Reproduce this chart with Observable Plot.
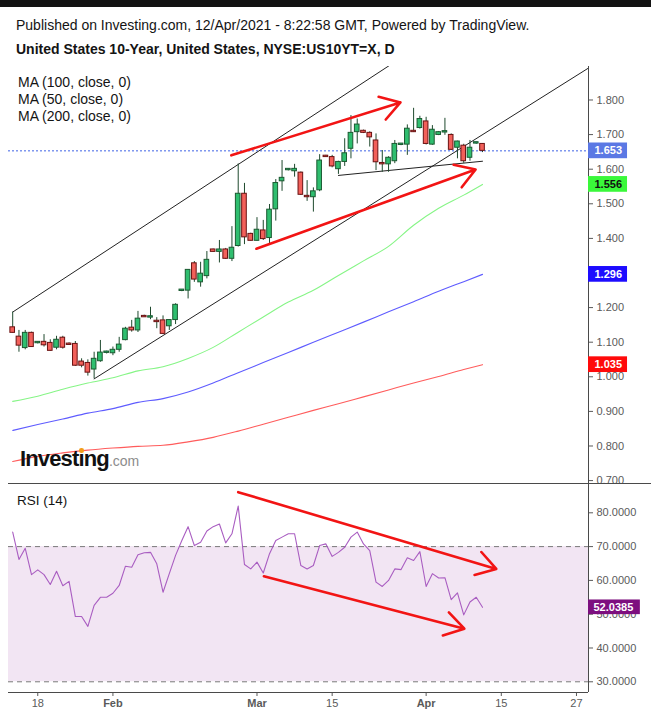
<!DOCTYPE html>
<html><head><meta charset="utf-8">
<script src="https://cdn.jsdelivr.net/npm/d3@7"></script>
<script src="https://cdn.jsdelivr.net/npm/@observablehq/plot@0.6"></script>
<style>
body{margin:0;background:#fff;}
#wrap{position:relative;width:651px;height:715px;overflow:hidden;font-family:"Liberation Sans",Arial,sans-serif;background:#fff;}
.topbar{position:absolute;left:0;top:0;width:651px;height:7px;background:#131313;}
.t{position:absolute;white-space:nowrap;color:#141414;font-size:14px;line-height:16px;}
#main,#rsi{position:absolute;left:0;}
#main{top:66px;} #rsi{top:483px;}
svg{overflow:visible;}
.logo{position:absolute;left:20px;top:448px;white-space:nowrap;line-height:22px;}
.logo b{font-size:22px;letter-spacing:-0.85px;color:#111;font-weight:bold;}
.logo .dot{position:relative;}
.logo .dot::after{content:"";position:absolute;left:1px;top:2px;width:4.5px;height:4.5px;border-radius:50%;background:#f39c1b;}
.logo span.com{font-size:14px;color:#8c8c8c;}
</style></head>
<body>
<div id="wrap">
  <div class="topbar"></div>
  <div class="t" style="left:16px;top:17px;">Published on Investing.com, 12/Apr/2021 - 8:22:58 GMT, Powered by TradingView.</div>
  <div class="t" style="left:16px;top:41px;font-weight:bold;">United States 10-Year, United States, NYSE:US10YT=X, D</div>
  <div id="main"></div>
  <div id="rsi"></div>
  <div class="t" style="left:18px;top:74px;">MA (100, close, 0)</div>
  <div class="t" style="left:18px;top:91px;">MA (50, close, 0)</div>
  <div class="t" style="left:18px;top:108px;">MA (200, close, 0)</div>
  <div class="logo"><b>Invest<span class="dot">ı</span>ng</b><span class="com">.com</span></div>
  <div class="t" style="left:17px;top:493px;font-size:13.5px;">RSI (14)</div>
</div>
<script>
// ---------- DATA (bar index 0 = 13 Jan 2021, daily bars incl. Sunday sessions) ----------
const opens  = [1.143,1.116,1.083,1.127,1.097,1.101,1.098,1.084,1.113,1.096,1.095,1.044,1.040,1.021,1.045,1.069,1.068,1.078,1.106,1.142,1.134,1.176,1.171,1.162,1.163,1.146,1.164,1.248,1.249,1.328,1.273,1.291,1.368,1.361,1.368,1.341,1.378,1.529,1.413,1.393,1.423,1.401,1.484,1.565,1.597,1.594,1.590,1.523,1.519,1.539,1.639,1.635,1.600,1.621,1.659,1.707,1.711,1.705,1.683,1.618,1.614,1.623,1.670,1.671,1.711,1.719,1.738,1.671,1.699,1.706,1.699,1.662,1.668,1.633,1.674,1.673];
const highs  = [1.187,1.134,1.134,1.129,1.101,1.122,1.107,1.117,1.117,1.098,1.102,1.052,1.049,1.071,1.105,1.074,1.086,1.114,1.143,1.163,1.189,1.178,1.201,1.171,1.176,1.165,1.211,1.252,1.310,1.333,1.331,1.362,1.369,1.394,1.371,1.434,1.615,1.559,1.415,1.460,1.452,1.498,1.570,1.625,1.601,1.614,1.592,1.567,1.546,1.642,1.640,1.640,1.623,1.688,1.755,1.745,1.713,1.708,1.702,1.654,1.636,1.683,1.674,1.728,1.776,1.753,1.750,1.726,1.709,1.747,1.702,1.681,1.672,1.683,1.678,1.674];
const lows   = [1.126,1.071,1.078,1.085,1.095,1.086,1.074,1.078,1.080,1.092,1.030,1.026,1.002,0.994,1.042,1.066,1.061,1.071,1.104,1.129,1.128,1.172,1.165,1.139,1.122,1.134,1.151,1.246,1.225,1.273,1.259,1.283,1.360,1.329,1.339,1.333,1.375,1.382,1.392,1.392,1.394,1.385,1.450,1.536,1.595,1.577,1.524,1.507,1.476,1.535,1.635,1.604,1.585,1.608,1.630,1.673,1.703,1.664,1.596,1.591,1.591,1.616,1.668,1.640,1.706,1.716,1.670,1.669,1.697,1.698,1.654,1.630,1.617,1.623,1.672,1.648];
const closes = [1.127,1.090,1.127,1.086,1.101,1.091,1.075,1.107,1.084,1.092,1.032,1.032,1.012,1.052,1.070,1.073,1.078,1.093,1.139,1.134,1.168,1.172,1.175,1.158,1.124,1.164,1.208,1.252,1.309,1.281,1.298,1.338,1.361,1.368,1.341,1.373,1.529,1.403,1.393,1.425,1.398,1.483,1.560,1.575,1.601,1.601,1.526,1.519,1.536,1.625,1.635,1.608,1.621,1.646,1.705,1.729,1.705,1.692,1.620,1.614,1.633,1.673,1.674,1.717,1.707,1.745,1.673,1.714,1.707,1.710,1.656,1.680,1.623,1.662,1.678,1.653];

const rsi14 = [74.3,66.2,69.5,61.7,63.1,61.7,58.8,62.7,58.4,59.7,49.3,49.3,46.4,52.6,55.0,55.0,56.2,58.5,64.2,63.9,67.6,68.2,68.3,64.9,56.5,62.0,67.4,71.8,75.9,70.3,71.3,74.6,75.9,76.7,71.1,73.8,82.0,64.7,63.4,65.4,62.2,67.9,71.8,72.8,73.8,73.8,64.4,63.4,64.4,70.3,70.8,67.1,68.3,69.8,72.8,74.3,70.8,68.8,59.5,58.2,60.0,63.4,63.2,66.7,65.9,68.5,58.2,62.0,60.7,60.8,54.3,56.3,49.8,53.6,55.0,52.0385];

// moving averages read at these bar indices
const maIdx  = [0,4,8,12,16,20,24,28,32,36,40,44,48,52,56,60,64,68,72,75];
const ma50   = [0.929,0.944,0.964,0.982,0.997,1.017,1.029,1.053,1.085,1.129,1.173,1.216,1.250,1.293,1.335,1.377,1.438,1.487,1.525,1.556];
const ma100  = [0.845,0.862,0.878,0.895,0.908,0.926,0.937,0.956,0.982,1.012,1.041,1.070,1.100,1.129,1.158,1.188,1.217,1.247,1.275,1.296];
const ma200  = [0.755,0.770,0.780,0.788,0.794,0.799,0.802,0.812,0.825,0.843,0.863,0.883,0.903,0.922,0.942,0.962,0.982,1.001,1.021,1.035];

// tick labels (1.300 sits under the 1.296 value tag in the original, so it is not shown)
const xTickIdx    = [4,16,39,51,66,78,90];
const xTickLabels = ["18","Feb","Mar","15","Apr","15","27"];
const monthLabels = ["Feb","Mar","Apr"];
const yTicksMain  = [0.7,0.8,0.9,1.0,1.1,1.2,1.4,1.5,1.6,1.7,1.8];
const yTicksRsi   = [30,40,50,60,70,80];
const rsiBands    = [30,70];

// drawings (bar index, value)
const channelUpper = [{i:0, v:1.187},{i:61, v:1.910}];
const channelLower = [{i:13, v:0.994},{i:91.8, v:1.891}];
const supportLine  = [{i:52, v:1.582},{i:75, v:1.623}];
const arrowsMain = [{i1:34.9, v1:1.640, i2:61.9, v2:1.793},{i1:38.9, v1:1.370, i2:73.9, v2:1.599}];
const arrowsRsi  = [{i1:36.0, v1:86.1, i2:77.2, v2:63.4},{i1:40.1, v1:61.2, i2:72.1, v2:45.7}];

// right-axis value labels
const priceLabels = [
  {v:closes[closes.length-1], bg:"#5b78e4", fg:"#ffffff"},
  {v:ma50[ma50.length-1],     bg:"#3af83a", fg:"#111111"},
  {v:ma100[ma100.length-1],   bg:"#1d0cff", fg:"#ffffff"},
  {v:ma200[ma200.length-1],   bg:"#ff0a0a", fg:"#ffffff"}
];
const rsiLabel = [{v:rsi14[rsi14.length-1], bg:"#7d0f7f", fg:"#ffffff"}];

// ---------- SCALES ----------
const X_DOMAIN = [-0.67, 91.92];
const X_EXT = 101.98;          // right end of panel separator
const Y_MAIN = [0.6916, 1.8968];
const Y_RSI  = [26.83, 88.67];

const GREEN = "#2fbe6f", GREEN_EDGE = "#1b5a31";
const RED = "#f2605a", RED_EDGE = "#6a1212";
const WICK = "#1f4a2e";
const FONT = "'Liberation Sans', Arial, sans-serif";

const bars = d3.range(opens.length).map(i => ({i, o:opens[i], h:highs[i], l:lows[i], c:closes[i]}));
const mk = arr => maIdx.map((i,k) => ({i, v:arr[k]}));

const main = Plot.plot({
  width: 651, height: 417,
  marginLeft: 8, marginRight: 63, marginTop: 0, marginBottom: 0,
  x: {domain: X_DOMAIN, axis: null},
  y: {domain: Y_MAIN, axis: null},
  color: {type: "identity"},
  style: {background: "transparent", fontFamily: FONT, fontSize: "11px", overflow: "visible"},
  marks: [
    Plot.axisY({anchor: "right", ticks: yTicksMain, tickFormat: d3.format(".3f"), tickSize: 4, tickPadding: 4, color: "#5a5a5a", fontSize: 11}),
    Plot.line(mk(ma200), {x: "i", y: "v", stroke: "#ff5c5c", strokeWidth: 1.1, curve: "monotone-x"}),
    Plot.line(mk(ma100), {x: "i", y: "v", stroke: "#5f5cff", strokeWidth: 1.1, curve: "monotone-x"}),
    Plot.line(mk(ma50),  {x: "i", y: "v", stroke: "#86f586", strokeWidth: 1.1, curve: "monotone-x"}),
    Plot.ruleY([closes[closes.length-1]], {stroke: "#3f63e6", strokeDasharray: "2,2", strokeWidth: 1}),
    Plot.line(channelUpper, {x: "i", y: "v", stroke: "#222", strokeWidth: 1, clip: true}),
    Plot.line(channelLower, {x: "i", y: "v", stroke: "#222", strokeWidth: 1, clip: true}),
    Plot.line(supportLine,  {x: "i", y: "v", stroke: "#222", strokeWidth: 1}),
    Plot.ruleX(bars, {x: "i", y1: "l", y2: "h", stroke: WICK, strokeWidth: 1}),
    Plot.rect(bars, {x1: d => d.i - 0.37, x2: d => d.i + 0.37, y1: "o", y2: "c",
      fill: d => d.c >= d.o ? GREEN : RED, stroke: d => d.c >= d.o ? GREEN_EDGE : RED_EDGE, strokeWidth: 1}),
    Plot.arrow(arrowsMain, {x1: "i1", y1: "v1", x2: "i2", y2: "v2", stroke: "#f21414", strokeWidth: 2.6, headLength: 13, headAngle: 64}),
    Plot.ruleX([X_DOMAIN[1]], {stroke: "#4a4a4a", strokeWidth: 1}),
    Plot.rect(priceLabels, {x1: X_DOMAIN[1], x2: X_DOMAIN[1] + 6.23, y1: d => d.v - 0.0227, y2: d => d.v + 0.0227, fill: "bg"}),
    Plot.text(priceLabels, {x: X_DOMAIN[1], y: "v", dx: 6, text: d => d3.format(".3f")(d.v), textAnchor: "start", fill: "fg", fontWeight: "bold", fontSize: 11})
  ]
});
document.getElementById("main").appendChild(main);

const rsiPlot = Plot.plot({
  width: 651, height: 232,
  marginLeft: 8, marginRight: 63, marginTop: 0, marginBottom: 23,
  x: {domain: X_DOMAIN, axis: null},
  y: {domain: Y_RSI, axis: null},
  color: {type: "identity"},
  style: {background: "transparent", fontFamily: FONT, fontSize: "11px", overflow: "visible"},
  marks: [
    Plot.rect([rsiBands], {x1: X_DOMAIN[0], x2: X_DOMAIN[1], y1: d => d[0], y2: d => d[1], fill: "#f2e5f3"}),
    Plot.ruleY(rsiBands, {stroke: "#7a7a7a", strokeDasharray: "5,4", strokeWidth: 1}),
    Plot.line(rsi14.map((v,i) => ({i, v})), {x: "i", y: "v", stroke: "#a95dc1", strokeWidth: 1.1}),
    Plot.arrow(arrowsRsi, {x1: "i1", y1: "v1", x2: "i2", y2: "v2", stroke: "#f21414", strokeWidth: 2.6, headLength: 13, headAngle: 64}),
    Plot.axisY({anchor: "right", ticks: yTicksRsi, tickFormat: d3.format(".4f"), tickSize: 4, tickPadding: 4, color: "#5a5a5a", fontSize: 11}),
    Plot.axisX({anchor: "bottom", ticks: xTickIdx.filter((d,k) => !monthLabels.includes(xTickLabels[k])),
      tickFormat: d => xTickLabels[xTickIdx.indexOf(d)], tickSize: 4, tickPadding: 3, color: "#5a5a5a", fontSize: 11}),
    Plot.axisX({anchor: "bottom", ticks: xTickIdx.filter((d,k) => monthLabels.includes(xTickLabels[k])),
      tickFormat: d => xTickLabels[xTickIdx.indexOf(d)], tickSize: 4, tickPadding: 3, color: "#5a5a5a", fontSize: 11, fontWeight: "bold"}),
    Plot.ruleY([Y_RSI[0]], {x1: X_DOMAIN[0], x2: X_DOMAIN[1], stroke: "#4a4a4a"}),
    Plot.ruleY([Y_RSI[1]], {x1: X_DOMAIN[0], x2: X_EXT, stroke: "#4a4a4a"}),
    Plot.ruleX([X_DOMAIN[1]], {stroke: "#4a4a4a", strokeWidth: 1}),
    Plot.rect(rsiLabel, {x1: X_DOMAIN[1], x2: X_DOMAIN[1] + 8.28, y1: d => d.v - 2.17, y2: d => d.v + 2.17, fill: "bg"}),
    Plot.text(rsiLabel, {x: X_DOMAIN[1], y: "v", dx: 5, text: d => d3.format(".4f")(d.v), textAnchor: "start", fill: "fg", fontWeight: "bold", fontSize: 11})
  ]
});
document.getElementById("rsi").appendChild(rsiPlot);
</script>
</body></html>
